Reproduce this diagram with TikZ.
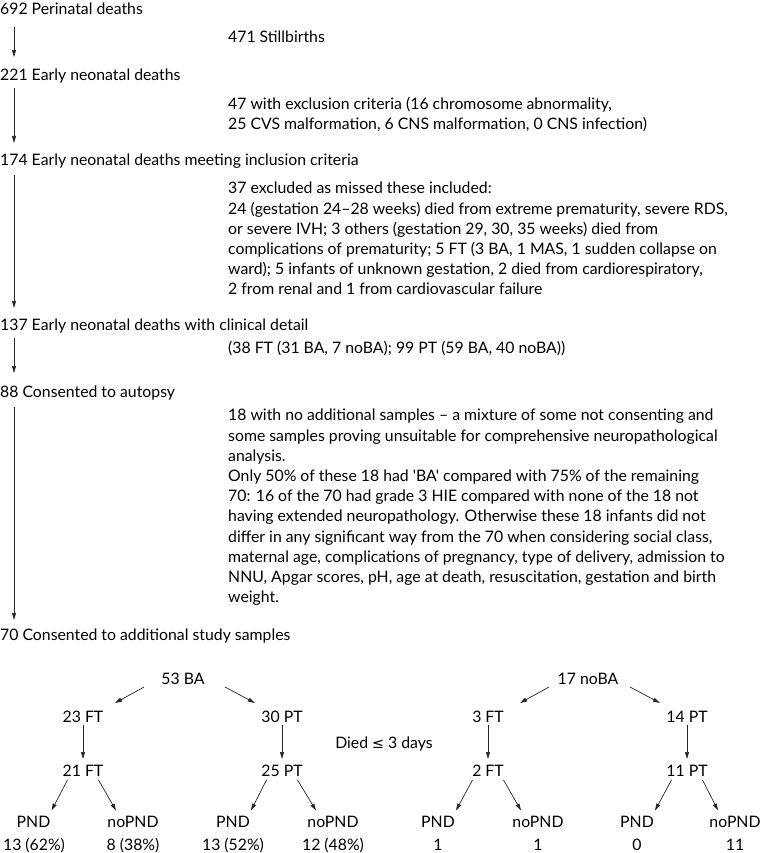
\documentclass[tikz,border=0pt]{standalone}
\usepackage{fontspec}
\setmainfont{Lato}[Ligatures=TeXOff]
\newfontfamily\symfont{DejaVu Sans}[Scale=0.9]
\usetikzlibrary{arrows.meta,calc}
\begin{document}
\begin{tikzpicture}[x=1pt,y=-1pt,
  txt/.style={inner sep=0pt, anchor=base west, font=\fontsize{15.8}{20.2}\selectfont},
  para/.style={inner sep=0pt, anchor=north west, align=left, font=\fontsize{15.8}{20.2}\selectfont},
  lbl/.style={inner sep=0pt, anchor=base, font=\fontsize{15.8}{20.2}\selectfont},
  arr/.style={draw=black!85, line width=0.7pt, -{Triangle[length=7pt,width=4pt]}}]
\useasboundingbox (0,0) rectangle (762,853);
\coordinate (ax) at (14,0);
% main chain
\node[txt] (n692) at (0,14.5) {692 Perinatal deaths};
\node[txt] (nStill) at (228,42.5) {471 Stillbirths};
\node[txt] (n221) at (0,80.5) {221 Early neonatal deaths};
\node[para] (nExcl) at (228,97) {47 with exclusion criteria (16 chromosome abnormality,\\25 CVS malformation, 6 CNS malformation, 0 CNS infection)};
\node[txt] (n174) at (0,165.5) {174 Early neonatal deaths meeting inclusion criteria};
\node[para] (nMissed) at (228,182) {37 excluded as missed these included:\\
24 (gestation 24–28 weeks) died from extreme prematurity, severe RDS,\\
or severe IVH; 3 others (gestation 29, 30, 35 weeks) died from\\
complications of prematurity; 5 FT (3 BA, 1 MAS, 1 sudden collapse on\\
ward); 5 infants of unknown gestation, 2 died from cardiorespiratory,\\
2 from renal and 1 from cardiovascular failure};
\node[txt] (n137) at (0,330.5) {137 Early neonatal deaths with clinical detail};
\node[txt] (nDetail) at (228,353.5) {(38 FT (31 BA, 7 noBA); 99 PT (59 BA, 40 noBA))};
\node[txt] (n88) at (0,397.5) {88 Consented to autopsy};
\node[para] (nNoSamp) at (228,409) {18 with no additional samples – a mixture of some not consenting and\\
some samples proving unsuitable for comprehensive neuropathological\\
analysis.\\
Only 50\% of these 18 had 'BA' compared with 75\% of the remaining\\
70: 16 of the 70 had grade 3 HIE compared with none of the 18 not\\
having extended neuropathology. Otherwise these 18 infants did not\\
differ in any significant way from the 70 when considering social class,\\
maternal age, complications of pregnancy, type of delivery, admission to\\
NNU, Apgar scores, pH, age at death, resuscitation, gestation and birth\\
weight.};
\node[txt] (n70) at (0,640.5) {70 Consented to additional study samples};
\draw[arr, shorten <=12.5pt, shorten >=23.5pt] (n692.base -| ax) -- (n221.base -| ax);
\draw[arr, shorten <=7.5pt, shorten >=22.5pt] (n221.base -| ax) -- (n174.base -| ax);
\draw[arr, shorten <=9.5pt, shorten >=22.5pt] (n174.base -| ax) -- (n137.base -| ax);
\draw[arr, shorten <=7.5pt, shorten >=24.5pt] (n137.base -| ax) -- (n88.base -| ax);
\draw[arr, shorten <=9.5pt, shorten >=20.5pt] (n88.base -| ax) -- (n70.base -| ax);
% trees
\node[lbl] (n53BA) at (183,684.5) {53 BA};
\node[lbl] (n17noBA) at (588,684.5) {17 noBA};
\node[lbl] (n23FT) at (83,722.5) {23 FT};
\node[lbl] (n30PT) at (282,722.5) {30 PT};
\node[lbl] (n3FT) at (488,722.5) {3 FT};
\node[lbl] (n14PT) at (687,722.5) {14 PT};
\node[lbl] (nDied) at (384,748.5) {Died {\symfont ≤} 3 days};
\node[lbl] (n21FT) at (83,776.5) {21 FT};
\node[lbl] (n25PT) at (282,776.5) {25 PT};
\node[lbl] (n2FT) at (488,776.5) {2 FT};
\node[lbl] (n11PT) at (687,776.5) {11 PT};
\node[lbl] (p1) at (33.5,827.5) {PND};
\node[lbl] (q1) at (133,827.5) {noPND};
\node[lbl] (p2) at (233,827.5) {PND};
\node[lbl] (q2) at (333,827.5) {noPND};
\node[lbl] (p3) at (438,827.5) {PND};
\node[lbl] (q3) at (538,827.5) {noPND};
\node[lbl] (p4) at (637,827.5) {PND};
\node[lbl] (q4) at (735,827.5) {noPND};
\node[lbl] (v1) at (34,850.5) {13 (62\%)};
\node[lbl] (w1) at (133,850.5) {8 (38\%)};
\node[lbl] (v2) at (233,850.5) {13 (52\%)};
\node[lbl] (w2) at (333,850.5) {12 (48\%)};
\node[lbl] (v3) at (438,850.5) {1};
\node[lbl] (w3) at (538,850.5) {1};
\node[lbl] (v4) at (637,850.5) {0};
\node[lbl] (w4) at (735,850.5) {11};
% tree arrows
\foreach \r/\a/\b in {n53BA/n23FT/n30PT, n17noBA/n3FT/n14PT}{
  \draw[arr] ($(\r.base)+(-39,2.5)$) -- ($(\a.base)+(32,-19.5)$);
  \draw[arr] ($(\r.base)+(42,2.5)$) -- ($(\b.base)+(-27,-19.5)$);
}
\foreach \u/\d in {n23FT/n21FT, n30PT/n25PT, n3FT/n2FT, n14PT/n11PT}{
  \draw[arr] ($(\u.base)+(0,2.5)$) -- ($(\d.base)+(0,-17.5)$);
}
\foreach \r/\a/\b in {n21FT/p1/q1, n25PT/p2/q2, n2FT/p3/q3, n11PT/p4/q4}{
  \draw[arr] ($(\r.base)+(-15.5,3.5)$) -- ($(\a.base)+(18,-17)$);
  \draw[arr] ($(\r.base)+(15.5,3.5)$) -- ($(\b.base)+(-17,-17)$);
}
\end{tikzpicture}
\end{document}
